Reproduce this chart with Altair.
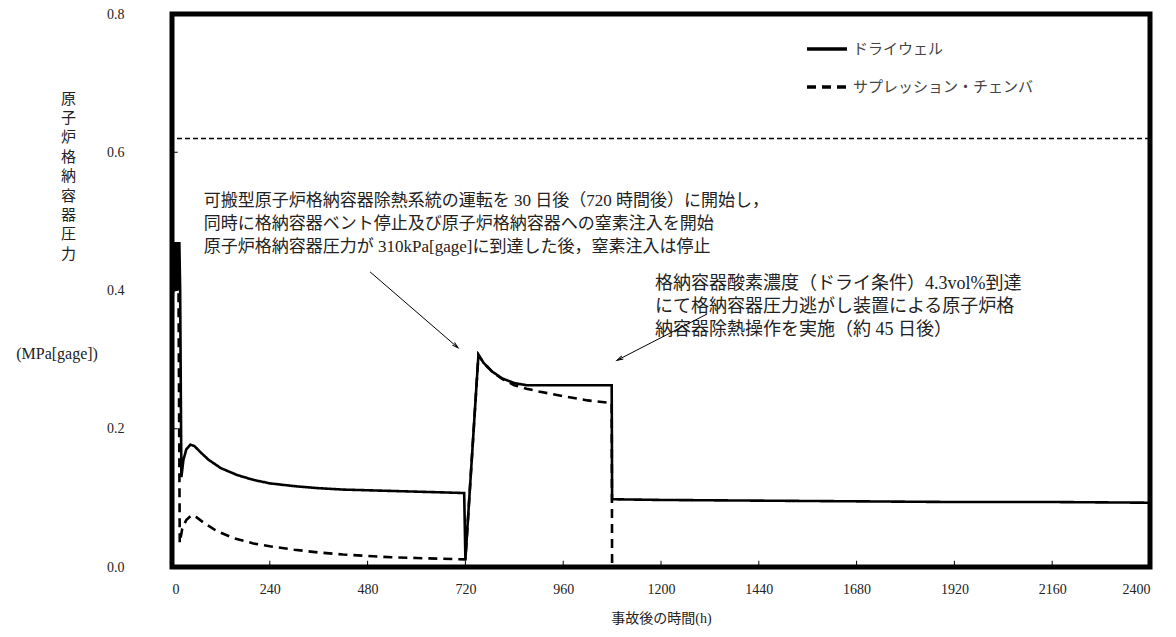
import altair as alt
import pandas as pd

# ---- data ----
series_names = ["ドライウェル", "サプレッション・チェンバ"]

dw_t = [0, 2, 4, 6, 8, 10, 12, 14, 16, 18, 20, 23, 28, 35, 45, 55, 70, 90, 120, 160, 200, 240,
        300, 360, 420, 480, 540, 600, 660, 717, 720, 752, 765, 785, 810, 840, 870, 960, 1079,
        1080, 1200, 1440, 1680, 1920, 2160, 2400]
dw_p = [0.0, 0.47, 0.40, 0.47, 0.40, 0.47, 0.40, 0.47, 0.40, 0.47, 0.40, 0.13, 0.155, 0.170, 0.177,
        0.175, 0.166, 0.155, 0.143, 0.133, 0.126, 0.121, 0.117, 0.114, 0.112, 0.111, 0.110, 0.109,
        0.108, 0.107, 0.011, 0.307, 0.295, 0.283, 0.273, 0.266, 0.263, 0.263, 0.263, 0.098, 0.097,
        0.096, 0.095, 0.094, 0.094, 0.093]

sc_t = [0, 2, 16, 19, 25, 35, 48, 60, 80, 110, 150, 200, 240, 300, 360, 420, 480, 540, 600,
        660, 719, 720, 752, 765, 785, 810, 840, 870, 900, 960, 1020, 1079, 1080]
sc_p = [0.0, 0.40, 0.40, 0.035, 0.055, 0.068, 0.075, 0.072, 0.063, 0.052, 0.042, 0.034, 0.030,
        0.025, 0.021, 0.018, 0.016, 0.014, 0.013, 0.012, 0.011, 0.011, 0.307, 0.295, 0.283, 0.272,
        0.263, 0.258, 0.254, 0.247, 0.241, 0.237, 0.0]

limit_p = [0.62]

x_ticks = [0, 240, 480, 720, 960, 1200, 1440, 1680, 1920, 2160, 2400]
y_ticks = [0.0, 0.2, 0.4, 0.6, 0.8]
x_inner_ticks = [240, 480, 720, 960, 1200, 1440, 1680, 1920, 2160]
y_inner_ticks = [0.2, 0.4, 0.6]

y_title_lines = ["原", "子", "炉", "格", "納", "容", "器", "圧", "力"]
y_unit = ["(MPa[gage])"]
y_unit_t = [-282]
y_unit_p = [0.308]
x_title = "事故後の時間(h)"

ann1_lines = ["可搬型原子炉格納容器除熱系統の運転を 30 日後（720 時間後）に開始し，",
              "同時に格納容器ベント停止及び原子炉格納容器への窒素注入を開始",
              "原子炉格納容器圧力が 310kPa[gage]に到達した後，窒素注入は停止"]
ann1_t = [78, 78, 78]
ann1_p = [0.529, 0.496, 0.463]

ann2_lines = ["格納容器酸素濃度（ドライ条件）4.3vol%到達",
              "にて格納容器圧力逃がし装置による原子炉格",
              "納容器除熱操作を実施（約 45 日後）"]
ann2_t = [1185, 1185, 1185]
ann2_p = [0.409, 0.376, 0.343]

arrow_t1 = [486, 1313]
arrow_p1 = [0.427, 0.366]
arrow_t2 = [702, 1092]
arrow_p2 = [0.317, 0.299]
arrow_angle = [131, 243]

# ---- tables ----
rows = []
for i, (t, p) in enumerate(zip(dw_t, dw_p)):
    rows.append({"t": t, "p": p, "series": series_names[0], "order": i})
for i, (t, p) in enumerate(zip(sc_t, sc_p)):
    rows.append({"t": t, "p": p, "series": series_names[1], "order": i})
df = pd.DataFrame(rows)

limit_df = pd.DataFrame({"p": limit_p})
xt_df = pd.DataFrame({"t": x_inner_ticks, "p": [0.0] * len(x_inner_ticks),
                      "p2": [0.009] * len(x_inner_ticks)})
yt_df = pd.DataFrame({"p": y_inner_ticks, "t": [0] * len(y_inner_ticks),
                      "t2": [14] * len(y_inner_ticks)})
ann1_df = pd.DataFrame({"t": ann1_t, "p": ann1_p, "text": ann1_lines})
ann2_df = pd.DataFrame({"t": ann2_t, "p": ann2_p, "text": ann2_lines})
unit_df = pd.DataFrame({"t": y_unit_t, "p": y_unit_p, "text": y_unit})
arrow_df = pd.DataFrame({"t": arrow_t1, "p": arrow_p1, "t2": arrow_t2, "p2": arrow_p2,
                         "angle": arrow_angle})

FONT = "Liberation Serif, Noto Sans CJK JP"
TXT = "#222222"

x_scale = alt.Scale(domain=[0, 2400], nice=False, zero=False)
y_scale = alt.Scale(domain=[0, 0.8], nice=False, zero=False)

x_axis = alt.Axis(values=x_ticks, format="d", ticks=False, domain=False, grid=False,
                  labelFont=FONT, labelFontSize=14, labelColor=TXT, labelPadding=15,
                  title=x_title, titleFont=FONT, titleFontSize=14, titleFontWeight="normal",
                  titleColor=TXT, titlePadding=15)
y_axis = alt.Axis(values=y_ticks, format=".1f", ticks=False, domain=False, grid=False,
                  labelFont=FONT, labelFontSize=14, labelColor=TXT, labelPadding=48,
                  title=y_title_lines, titleFont=FONT, titleFontSize=15,
                  titleFontWeight="normal", titleColor=TXT, titleAngle=0,
                  titleAlign="center", titleBaseline="top", titleX=-104, titleY=77,
                  titleLineHeight=19.4)

X = alt.X("t:Q", scale=x_scale, axis=x_axis)
Y = alt.Y("p:Q", scale=y_scale, axis=y_axis)

lines = alt.Chart(df).mark_line(color="black", strokeWidth=2.6, strokeCap="butt").encode(
    x=X, y=Y,
    strokeDash=alt.StrokeDash(
        "series:N",
        scale=alt.Scale(domain=series_names, range=[[1, 0], [9, 6]]),
        legend=alt.Legend(orient="none", legendX=633, legendY=13, title=None,
                          symbolType="stroke", symbolSize=1600, symbolStrokeWidth=3.5,
                          symbolStrokeColor="black", labelFont=FONT, labelFontSize=15,
                          labelColor="#444444", labelOffset=4, rowPadding=8, padding=0,
                          labelLimit=400),
    ),
    order="order:Q",
)

limit = alt.Chart(limit_df).mark_rule(color="black", strokeWidth=1.5, strokeDash=[5, 3]).encode(
    y=Y
)

xticks = alt.Chart(xt_df).mark_rule(color="black", strokeWidth=1).encode(
    x=X, y=Y, y2=alt.Y2("p2:Q")
)
yticks = alt.Chart(yt_df).mark_rule(color="black", strokeWidth=1).encode(
    x=X, x2=alt.X2("t2:Q"), y=Y
)

ann1 = alt.Chart(ann1_df).mark_text(align="left", baseline="middle", font=FONT, fontSize=17,
                                    color=TXT).encode(x=X, y=Y, text="text:N")
ann2 = alt.Chart(ann2_df).mark_text(align="left", baseline="middle", font=FONT, fontSize=18,
                                    color=TXT).encode(x=X, y=Y, text="text:N")
unit = alt.Chart(unit_df).mark_text(align="center", baseline="middle", font=FONT, fontSize=16,
                                    color=TXT, clip=False).encode(x=X, y=Y, text="text:N")

arrows = alt.Chart(arrow_df).mark_rule(color="black", strokeWidth=1).encode(
    x=X, y=Y, x2=alt.X2("t2:Q"), y2=alt.Y2("p2:Q")
)
heads = alt.Chart(arrow_df).mark_point(
    shape="M-0.45,1.6L0,0L0.45,1.6", filled=False, color="black", strokeWidth=1, size=60,
    opacity=1,
).encode(
    x=alt.X("t2:Q", scale=x_scale, axis=x_axis),
    y=alt.Y("p2:Q", scale=y_scale, axis=y_axis),
    angle=alt.Angle("angle:Q", scale=None),
)

chart = alt.layer(limit, lines, xticks, yticks, ann1, ann2, unit, arrows, heads).properties(
    width=978, height=553,
    padding={"left": 164, "top": 6, "right": 10, "bottom": 62},
    autosize=alt.AutoSizeParams(type="none"),
).configure(background="white").configure_view(stroke="black", strokeWidth=5)

chart.save("out.html", embed_options={"renderer": "svg", "actions": False})
